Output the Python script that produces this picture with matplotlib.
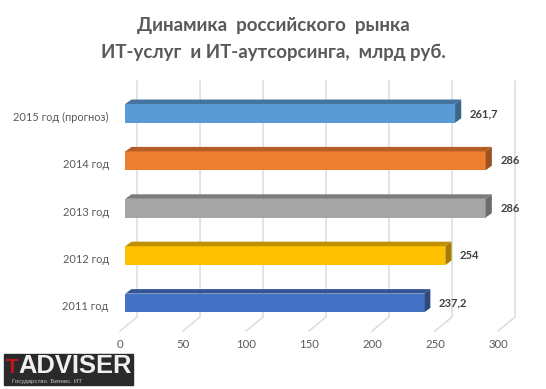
import matplotlib
matplotlib.use('Agg')
import matplotlib.pyplot as plt
from matplotlib.patches import Polygon, Rectangle
from matplotlib.transforms import ScaledTranslation

plt.rcParams['font.family'] = ['Lato', 'DejaVu Sans']

years = ['2011 год', '2012 год', '2013 год', '2014 год', '2015 год (прогноз)']
values = [237.2, 254, 286, 286, 261.7]
value_labels = ['237,2', '254', '286', '286', '261,7']
front_colors = ['#4472C4', '#FFC000', '#A5A5A5', '#ED7D31', '#5B9BD5']
top_colors = ['#335593', '#BF9000', '#7C7C7C', '#B25E25', '#44749F']
side_colors = ['#2B4A82', '#A67C00', '#6C6C6C', '#9C5220', '#3C6689']
ticks = [0, 50, 100, 150, 200, 250, 300]

W, H = 546, 389
PX = 1.26  # pixels per rub
STEP = 47.4  # pixels between bars

fig = plt.figure(figsize=(W / 100, H / 100), dpi=100)
left, right = 125.3, 125.3 + 300 * PX
bottom, top = 331, 81
ax = fig.add_axes([left / W, 1 - bottom / H, (right - left) / W, (bottom - top) / H])
ax.set_xlim(0, 300)
y0 = (331 - 303) / STEP
ax.set_ylim(-y0, -y0 + (bottom - top) / STEP)
for s in ax.spines.values():
    s.set_visible(False)

# floor + back wall gridlines
ylo, yhi = ax.get_ylim()
floor_back = ylo + 14 / STEP
for t in ticks:
    ax.plot([t - 4.2, t + 9.3, t + 9.3], [ylo, floor_back, yhi], color='#D9D9D9',
            lw=1, clip_on=False, zorder=1)

# bars with fake 3d depth
bar_h = 18.8 / STEP
dx = 6.2 / PX
dy = 4.5 / STEP
for i, v in enumerate(values):
    lo, hi = i - bar_h / 2, i + bar_h / 2
    ax.barh(i, v, height=bar_h, color=front_colors[i], zorder=3)
    ax.add_patch(Polygon([(0, hi), (dx, hi + dy), (v + dx, hi + dy), (v, hi)],
                         color=top_colors[i], lw=0, zorder=3))
    ax.add_patch(Polygon([(v, lo), (v + dx, lo + dy), (v + dx, hi + dy), (v, hi)],
                         color=side_colors[i], lw=0, zorder=3))
    ax.annotate(value_labels[i], (v, i), xytext=(14.5, 0), textcoords='offset pixels',
                va='center', ha='left', fontsize=8, fontweight='bold',
                color='#404040', zorder=4)

ax.set_yticks(range(len(years)), years)
ax.set_xticks(ticks, [str(t) for t in ticks])
ax.tick_params(axis='both', length=0, labelsize=8.2, labelcolor='#595959')
ax.tick_params(axis='y', pad=16.5 * 0.72, labelsize=7.9)
ax.tick_params(axis='x', pad=6)
shift = ScaledTranslation(-5.3 / 100, 0, fig.dpi_scale_trans)
for lab in ax.get_xticklabels():
    lab.set_transform(lab.get_transform() + shift)
shift_y = ScaledTranslation(0, -3 / 100, fig.dpi_scale_trans)
for lab in ax.get_yticklabels():
    lab.set_transform(lab.get_transform() + shift_y)

fig.text(0.5, 1 - 25 / H, 'Динамика  российского  рынка', ha='center', va='center',
         fontsize=13.5, fontweight='bold', color='#595959')
fig.text(0.5, 1 - 52.5 / H, 'ИТ-услуг  и ИТ-аутсорсинга,  млрд руб.', ha='center', va='center',
         fontsize=13.4, fontweight='bold', color='#595959')

# logo
fig.add_artist(Rectangle((4 / W, 1 - 385 / H), 129 / W, 31 / H, color='#2A2A2A',
                         transform=fig.transFigure))
fig.text(5.5 / W, 1 - 373 / H, 'T', color='#C8141E', fontsize=15, fontweight='bold',
         family='Liberation Sans', va='baseline')
fig.text(18.5 / W, 1 - 373 / H, 'ADVISER', color='#F0F0F0', fontsize=18.4, fontweight='bold',
         family='Liberation Sans', va='baseline')
fig.text(12 / W, 1 - 381 / H, 'Государство. Бизнес. ИТ', color='#C8C8C8', fontsize=4.4,
         family='Liberation Sans', va='center')

fig.savefig('out.png', dpi=100)
